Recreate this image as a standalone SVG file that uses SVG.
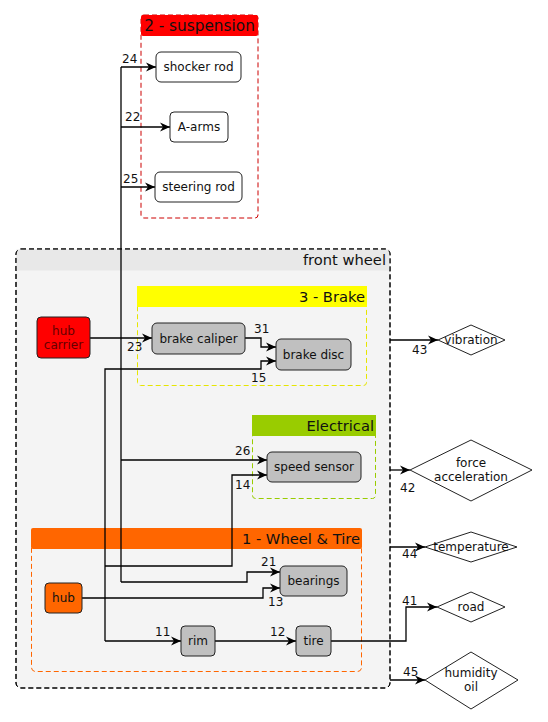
<svg xmlns="http://www.w3.org/2000/svg" width="548" height="722" viewBox="0 0 548 722">
<defs>
<marker id="arr" viewBox="0 0 10 10" refX="10" refY="5" markerWidth="10" markerHeight="10" markerUnits="userSpaceOnUse" orient="auto">
<path d="M0,0.5 L10,5 L0,9.5 L3,5 Z" fill="#000"/>
</marker>
</defs>
<style>
text{font-family:"DejaVu Sans","Liberation Sans",sans-serif;fill:#111}
.n{font-size:12px;text-anchor:middle}
.t{font-size:14.7px;text-anchor:end}
.l{font-size:12px}
.node{stroke:#222;stroke-width:1}
.gray{fill:#c0c0c0}
.white{fill:#fff}
.e{fill:none;stroke:#000;stroke-width:1.3;marker-end:url(#arr)}
.p{fill:none;stroke:#000;stroke-width:1.3}
</style>
<rect width="548" height="722" fill="#fff"/>

<g id="front-wheel">
<rect x="16" y="249" width="374" height="439" rx="5" fill="#f4f4f4" stroke="#000" stroke-dasharray="5,3"/>
<rect x="16.5" y="249.5" width="373" height="21" fill="#e8e8e8"/>
<rect x="16" y="249" width="374" height="439" rx="5" fill="none" stroke="#000" stroke-dasharray="5,3"/>
<text class="t" x="386" y="265">front wheel</text>
</g>

<g id="suspension">
<rect x="141" y="15" width="117" height="203" rx="3" fill="#fff" stroke="#cc0000" stroke-dasharray="5,3"/>
<rect x="141" y="15" width="117" height="21" rx="2" fill="#ff0000"/>
<text x="199.5" y="31" style="font-size:15.3px;text-anchor:middle">2 - suspension</text>
</g>

<g id="brake">
<rect x="137.5" y="286.5" width="229" height="99" rx="3" fill="none" stroke="#e6e600" stroke-dasharray="5,3"/>
<rect x="137" y="286" width="230" height="21" fill="#ffff00"/>
<text class="t" x="365" y="302">3 - Brake</text>
</g>

<g id="electrical">
<rect x="252.5" y="415.5" width="123" height="83" rx="3" fill="none" stroke="#99cc00" stroke-dasharray="5,3"/>
<rect x="252" y="415" width="124" height="21" fill="#99cc00"/>
<text class="t" x="374" y="431">Electrical</text>
</g>

<g id="wheel-tire">
<rect x="31.5" y="528.5" width="330" height="143" rx="4" fill="none" stroke="#ff6600" stroke-dasharray="5,3"/>
<rect x="31" y="528" width="331" height="21" rx="2" fill="#ff6600"/>
<text class="t" x="360" y="544">1 - Wheel &amp; Tire</text>
</g>

<g id="connectors">
<path class="p" d="M121,67 V582"/>
<path class="e" d="M121,67 H156"/>
<path class="e" d="M121,127 H170"/>
<path class="e" d="M121,187 H155"/>
<path class="e" d="M90,338 H152"/>
<path class="e" d="M245,338 H261 V347 H276"/>
<path class="e" d="M105,641 V369 H261 V361 H276"/>
<path class="e" d="M121,460 H267"/>
<path class="e" d="M105,566 H232 V475 H267"/>
<path class="e" d="M121,582 H247 V572 H280"/>
<path class="e" d="M82,598 H263 V588 H280"/>
<path class="e" d="M105,641 H181"/>
<path class="e" d="M215,641 H296"/>
<path class="e" d="M331,641 H406 V607 H437"/>
<path class="e" d="M390,340 H438"/>
<path class="e" d="M390,470 H410"/>
<path class="e" d="M390,547 H425"/>
<path class="e" d="M390,680 H425"/>
<text class="l" x="122" y="63">24</text>
<text class="l" x="125" y="121">22</text>
<text class="l" x="123" y="183">25</text>
<text class="l" x="127" y="351">23</text>
<text class="l" x="254" y="333">31</text>
<text class="l" x="251" y="382">15</text>
<text class="l" x="235" y="455">26</text>
<text class="l" x="235" y="489">14</text>
<text class="l" x="261" y="566">21</text>
<text class="l" x="268" y="606">13</text>
<text class="l" x="155" y="636">11</text>
<text class="l" x="270" y="636">12</text>
<text class="l" x="402" y="605">41</text>
<text class="l" x="412" y="354">43</text>
<text class="l" x="400" y="492">42</text>
<text class="l" x="402" y="558">44</text>
<text class="l" x="403" y="676">45</text>
</g>

<g id="shocker-rod"><rect class="node white" x="156" y="52" width="85" height="30" rx="5"/><text class="n" x="198.5" y="71">shocker rod</text></g>
<g id="a-arms"><rect class="node white" x="170" y="112" width="58" height="30" rx="4"/><text class="n" x="199" y="131">A-arms</text></g>
<g id="steering-rod"><rect class="node white" x="155" y="172" width="87" height="30" rx="5"/><text class="n" x="198.5" y="191">steering rod</text></g>

<g id="hub-carrier"><rect class="node" x="37" y="317" width="53" height="41" rx="4" fill="#ff0000"/><text class="n" x="63.5" y="335" style="fill:#660000">hub</text><text class="n" x="63.5" y="349" style="fill:#660000">carrier</text></g>
<g id="brake-caliper"><rect class="node gray" x="152" y="323" width="93" height="31" rx="5"/><text class="n" x="198.5" y="343">brake caliper</text></g>
<g id="brake-disc"><rect class="node gray" x="276" y="339" width="75" height="31" rx="5"/><text class="n" x="313.5" y="359">brake disc</text></g>
<g id="speed-sensor"><rect class="node gray" x="267" y="452" width="94" height="30" rx="5"/><text class="n" x="314" y="471">speed sensor</text></g>
<g id="hub"><rect class="node" x="45" y="583" width="37" height="30" rx="4" fill="#ff6600"/><text class="n" x="63.5" y="602">hub</text></g>
<g id="bearings"><rect class="node gray" x="280" y="566" width="67" height="30" rx="5"/><text class="n" x="313.5" y="585">bearings</text></g>
<g id="rim"><rect class="node gray" x="181" y="626" width="34" height="30" rx="4"/><text class="n" x="198" y="645">rim</text></g>
<g id="tire"><rect class="node gray" x="296" y="626" width="35" height="30" rx="4"/><text class="n" x="313.5" y="645">tire</text></g>

<g id="vibration"><path class="node white" d="M438,340 L471,325 L505,340 L471,355 Z"/><text class="n" x="471" y="344">vibration</text></g>
<g id="force-acceleration"><path class="node white" d="M410,470 L471,440 L532,470 L471,501 Z"/><text class="n" x="471" y="467">force</text><text class="n" x="471" y="481">acceleration</text></g>
<g id="temperature"><path class="node white" d="M425,547 L471,532 L517,547 L471,562 Z"/><text class="n" x="471" y="551">temperature</text></g>
<g id="road"><path class="node white" d="M437,607 L471,592 L505,607 L471,622 Z"/><text class="n" x="471" y="611">road</text></g>
<g id="humidity-oil"><path class="node white" d="M425,680 L471,652 L518,680 L471,709 Z"/><text class="n" x="471" y="677">humidity</text><text class="n" x="471" y="691">oil</text></g>
</svg>
